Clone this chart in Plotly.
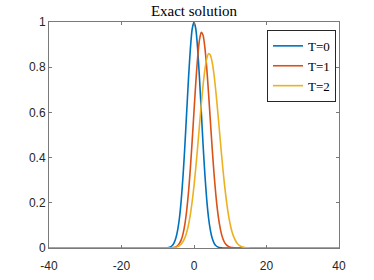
import plotly.graph_objects as go

x = [-40, -8, -7.5, -7, -6.5, -6, -5.5, -5, -4.5, -4, -3.5, -3, -2.5, -2, -1.5, -1, -0.5,
     0, 0.5, 1, 1.5, 2, 2.5, 3, 3.5, 4, 4.5, 5, 5.5, 6, 6.5, 7, 7.5, 8,
     8.5, 9, 9.5, 10, 10.5, 11, 11.5, 12, 12.5, 13, 13.5, 14, 14.5, 15, 15.5, 16, 40]

t0 = [0, 0, 0.001, 0.002, 0.005, 0.011, 0.023, 0.044, 0.080, 0.135, 0.216, 0.325, 0.458, 0.607, 0.755, 0.882, 0.969,
      1.0, 0.969, 0.882, 0.755, 0.607, 0.458, 0.325, 0.216, 0.135, 0.080, 0.044, 0.023, 0.011, 0.005, 0.002, 0.001, 0,
      0, 0, 0, 0, 0, 0, 0, 0, 0, 0, 0, 0, 0, 0, 0, 0, 0]

t1 = [0, 0, 0, 0, 0.001, 0.001, 0.002, 0.005, 0.011, 0.021, 0.037, 0.065, 0.107, 0.168, 0.250, 0.354, 0.475,
      0.605, 0.733, 0.843, 0.920, 0.954, 0.941, 0.887, 0.799, 0.688, 0.566, 0.445, 0.334, 0.240, 0.164, 0.108, 0.067, 0.040,
      0.023, 0.013, 0.007, 0.003, 0.002, 0.001, 0, 0, 0, 0, 0, 0, 0, 0, 0, 0, 0]

t2 = [0, 0, 0, 0, 0, 0.001, 0.002, 0.003, 0.006, 0.011, 0.018, 0.029, 0.046, 0.070, 0.104, 0.149, 0.206,
      0.275, 0.356, 0.446, 0.541, 0.634, 0.719, 0.789, 0.837, 0.860, 0.854, 0.823, 0.770, 0.697, 0.612, 0.522, 0.431, 0.345,
      0.268, 0.202, 0.147, 0.104, 0.071, 0.048, 0.031, 0.019, 0.012, 0.007, 0.004, 0.002, 0.001, 0.001, 0, 0, 0]

names = ["T=0", "T=1", "T=2"]
colors = ["#0072BD", "#D95319", "#EDB120"]
xticks = [-40, -20, 0, 20, 40]
xticklabels = ["-40", "-20", "0", "20", "40"]
yticks = [0, 0.2, 0.4, 0.6, 0.8, 1]
yticklabels = ["0", "0.2", "0.4", "0.6", "0.8", "1"]

fig = go.Figure()
for ys, n, c in zip([t0, t1, t2], names, colors):
    fig.add_trace(go.Scatter(x=x, y=ys, mode="lines", name=n,
                             line=dict(color=c, width=1.6, shape="spline", smoothing=0.6)))

axis_common = dict(showgrid=False, zeroline=False, showline=True, linecolor="#7a7a7a", linewidth=1,
                   mirror="ticks", ticks="inside", ticklen=3, tickcolor="#7a7a7a", automargin=False,
                   tickfont=dict(family="Liberation Sans, Arial", size=12, color="#262626"))

fig.update_layout(
    width=374, height=280,
    margin=dict(l=49, r=35, t=22, b=32),
    paper_bgcolor="white", plot_bgcolor="white",
    title=dict(text="Exact solution", x=0.5, xanchor="center", xref="paper",
               y=0.9625, yref="container", yanchor="middle", pad=dict(t=0, b=0),
               font=dict(family="Liberation Serif, DejaVu Serif", size=15, color="black"),
               automargin=False),
    xaxis=dict(range=[-40, 40], tickvals=xticks, ticktext=xticklabels, ticklabelstandoff=7, **axis_common),
    yaxis=dict(range=[0, 1], tickvals=yticks, ticktext=yticklabels, **axis_common),
    legend=dict(x=0.9897, y=0.965, xanchor="right", yanchor="top",
                bordercolor="#262626", borderwidth=1, bgcolor="white",
                font=dict(family="Liberation Serif, DejaVu Serif", size=13, color="black"),
                tracegroupgap=0, itemwidth=30),
    showlegend=True,
)

fig.write_html("out.html", config={"displayModeBar": False},
               post_script="document.body.style.margin='0';")
